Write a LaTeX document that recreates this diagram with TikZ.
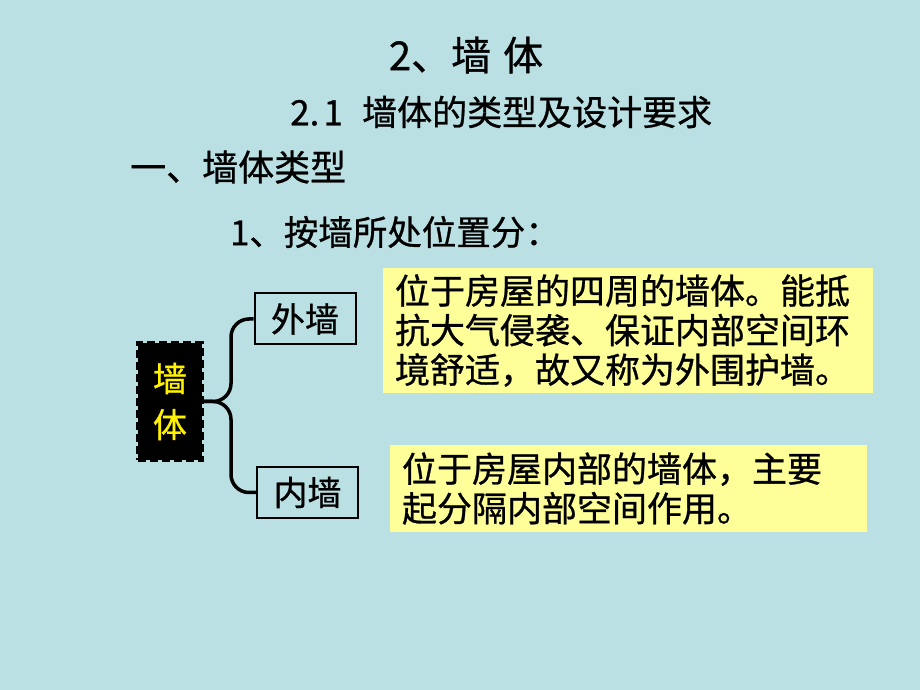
\documentclass[tikz,border=0pt]{standalone}
\usepackage{fontspec}
\usepackage{tikz}
\newfontfamily\cjk[FakeBold=0.8]{Noto Sans CJK SC}

\definecolor{slideblue}{RGB}{187,224,227}
\definecolor{noteyellow}{RGB}{255,255,153}

\begin{document}
\begin{tikzpicture}[x=1pt,y=1pt,
    txt/.style={font=\cjk\fontsize{34.5}{38}\selectfont, inner sep=0pt},
    wallbox/.style={draw=black, line width=2pt, minimum width=101pt, minimum height=51pt, font=\cjk\fontsize{34}{38}\selectfont},
    notebox/.style={fill=noteyellow, inner xsep=12pt, inner ysep=4pt, align=left, font=\cjk\fontsize{35}{39.5}\selectfont},
    brace/.style={line width=3.5pt, rounded corners=18pt}]
            % Background
            \fill[slideblue] (0,0) rectangle (920,690);
            \useasboundingbox (0,0) rectangle (920,690);

            % Headings
            \node[txt, font=\cjk\fontsize{40}{44}\selectfont] (title) at (466,635) {2、墙\hspace{0.3em}体};
            \node[txt, font=\cjk\fontsize{35}{39}\selectfont, anchor=west] (sub) at (290,578) {2.\hspace{0.12em}1\hspace{0.55em}墙体的类型及设计要求};
            \node[txt, font=\cjk\fontsize{36}{40}\selectfont, anchor=west] (kind) at (130,523) {一、墙体类型};
            \node[txt, anchor=west] (bypos) at (230,458) {1、按墙所处位置分：};

            % Root box (black, dashed edge)
            \node[fill=black, draw=black, line width=4pt, dash pattern=on 8pt off 4pt,
                  minimum width=64pt, minimum height=117pt, align=center, text=yellow,
                  font=\cjk\fontsize{34}{46}\selectfont] (wall) at (170,288.5) {墙\\体};

            % Outer / inner wall
            \node[wallbox] (outer) at (305,371) {外墙};
            \node[wallbox] (inner) at (307.5,197.5) {内墙};

            % Brace
            \coordinate (fork) at (231,288.5);
            \draw[brace] (wall.east) -- (fork) |- (outer.west);
            \draw[brace] (wall.east) -- (fork) |- (inner.west);

            % Notes
            \node[notebox, text width=466pt, minimum height=125pt] (outernote) at (628,359.5)
                {位于房屋的四周的墙体。能抵\\抗大气侵袭、保证内部空间环\\境舒适，故又称为外围护墙。};
            \node[notebox, text width=453pt, minimum height=87pt] (innernote) at (628.5,201.5)
                {位于房屋内部的墙体，主要\\起分隔内部空间作用。};
        \end{tikzpicture}
\end{document}
